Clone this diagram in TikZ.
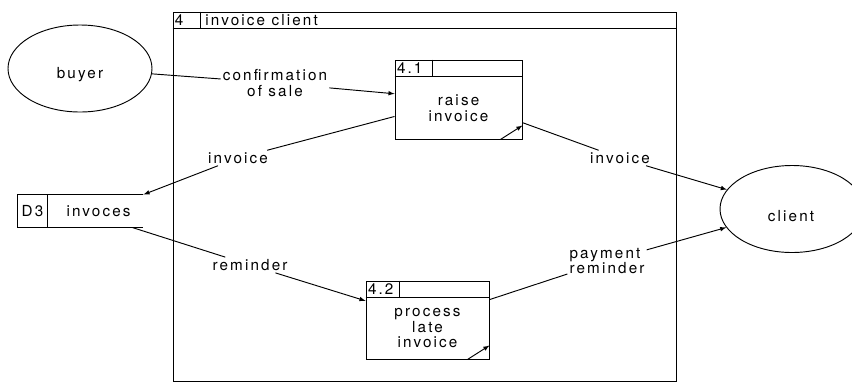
\documentclass[tikz,border=0pt]{standalone}
\usepackage{fontspec}
\setmainfont[LetterSpace=14]{TeX Gyre Heros}
\usepackage{tikz}
\usetikzlibrary{shapes.geometric,calc,positioning}

\tikzset{
  dfd schemes/.style = {
    x = 0.03cm, y = -0.03cm,
    line width = 0.8pt,
    font = \fontsize{13}{13.5}\selectfont,
    % external entity
    ent/.style  = {ellipse, draw, minimum width=4.32cm, minimum height=2.61cm},
    % process and store
    proc/.style  = {draw, rectangle, inner sep=0pt},
    store/.style = {rectangle, inner sep=0pt,
                    minimum width=3.75cm, minimum height=0.96cm},
    % flow labels, flows
    lbl/.style  = {align=center, inner sep=1.5pt},
    flow/.style = {-latex},
  }
}

\begin{document}
\begin{tikzpicture}[dfd schemes]
\def\prochead(#1)<#2>[#3]{
  \draw ($(#1.north west)+(0,17)$) -- ($(#1.north east)+(0,17)$);
  \draw ($(#1.north west)+(#2,0)$) -- ($(#1.north west)+(#2,17)$);
  \path (#1.north west) +(2,8.5) node[anchor=west, inner sep=0pt] (#1-id) {#3};
}
\def\corner(#1){
  \draw[-latex] ($(#1.south east)+(-22,0)$) -- ($(#1.south east)+(0,-14)$);
}
  \useasboundingbox (0,0) rectangle (852,383);

%---------------------------------------------
  \node[proc, minimum width=15.09cm, minimum height=11.07cm] (frame) at (424.5,196.5) {};
  \prochead(frame)<28>[4]
  \node[anchor=west, inner sep=0pt] (frame-name) at (205,20.5) {invoice client};

  \node[ent] (buyer)  at (80,68.5) {};
  \node (buyer-txt)   at (80,75)  {buyer};
  \node[ent] (client) at (792,209) {};
  \node (client-txt)  at (791,216) {client};

  \node[proc, minimum width=3.81cm, minimum height=2.37cm] (p41) at (458.5,99.5) {};
  \prochead(p41)<38>[4.1] \corner(p41)
  \node[align=center] (p41-txt) at ($(p41.center)+(0,8.5)$) {raise\\invoice};

  \node[proc, minimum width=3.69cm, minimum height=2.34cm] (p42) at (427.5,320) {};
  \prochead(p42)<34>[4.2] \corner(p42)
  \node[align=center] (p42-txt) at ($(p42.center)+(0,8)$) {process\\late\\invoice};

  \node[store] (d3) at (80.5,211) {};
  \draw (d3.north east) -- (d3.north west) -- (d3.south west) -- (d3.south east);
  \draw ($(d3.north west)+(30,0)$) -- ($(d3.south west)+(30,0)$);
  \node (d3-id)   at ($(d3.west)+(15,0)$) {D3};
  \node (d3-name) at ($(d3.west)+(81,0)$) {invoces};

%---------------------------------------------
  \node[lbl] (l-conf) at (275,83)  {confirmation\\of sale};
  \node[lbl] (l-inv1) at (238,158) {invoice};
  \node[lbl] (l-inv2) at (620,158) {invoice};
  \node[lbl] (l-rem)  at (250,265) {reminder};
  \node[lbl, align=left] (l-pay) at (607,261) {payment\\reminder};

  \draw (buyer) -- (l-conf);  \draw[flow] (l-conf) -- (p41);
  \draw (p41) -- (l-inv1);    \draw[flow] (l-inv1) -- (d3.north east);
  \draw (p41) -- (l-inv2);    \draw[flow] (l-inv2) -- (client);
  \draw (d3) -- (l-rem);      \draw[flow] (l-rem) -- (p42);
  \draw (p42) -- (l-pay);     \draw[flow] (l-pay) -- (client);
\end{tikzpicture}
\end{document}
